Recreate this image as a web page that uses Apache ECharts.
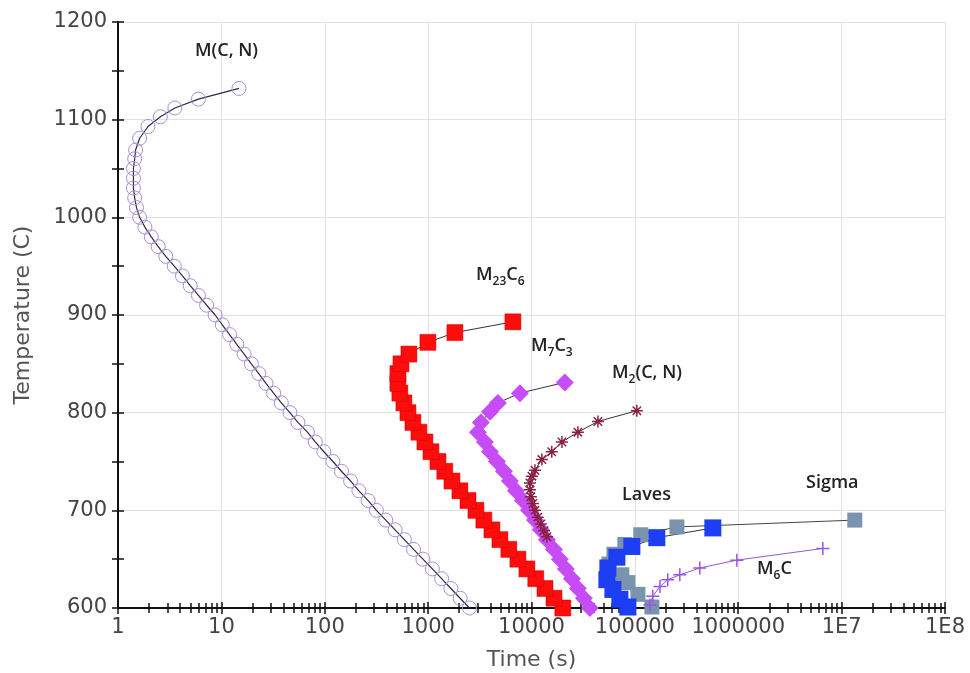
<!DOCTYPE html>
<html>
<head>
<meta charset="utf-8">
<style>
  html, body { margin: 0; padding: 0; background: #fff; }
  #chart { width: 970px; height: 673px; }
</style>
</head>
<body>
<div id="chart"></div>
<script src="https://cdn.jsdelivr.net/npm/echarts@6/dist/echarts.min.js"></script>
<script>
// temperature (C) and time (s)
var mcnTemp = [600, 610, 620, 630, 640, 650, 660, 670, 680, 690, 700, 710, 720, 730, 740, 750, 760, 770, 780, 790,
  800, 810, 820, 830, 840, 850, 860, 870, 880, 890, 900, 910, 920, 930, 940, 950, 960, 970, 980, 990,
  1000, 1010, 1020, 1030, 1040, 1050, 1060, 1069, 1081, 1093, 1103, 1112, 1121, 1132];
var mcnTime = [2510, 2040, 1660, 1350, 1100, 891, 724, 589, 479, 389, 316, 263, 214, 178, 145, 120, 98, 81, 68, 55,
  46, 38, 32, 27, 23, 19.5, 16.6, 14.1, 12.0, 10.2, 8.7, 7.2, 6.0, 5.0, 4.2, 3.5, 2.9, 2.45, 2.1, 1.82,
  1.62, 1.51, 1.45, 1.41, 1.41, 1.41, 1.45, 1.48, 1.62, 1.95, 2.57, 3.55, 6.0, 14.8];

var m23Temp = [600, 610, 620, 630, 640, 650, 660, 670, 680, 690, 700, 710, 720, 730, 740, 750, 760, 770, 780, 790,
  800, 810, 820, 830, 840, 850, 860, 872, 882, 893];
var m23Time = [20100, 16500, 13500, 11000, 9030, 7390, 6040, 4950, 4140, 3460, 2900, 2430, 2030, 1700, 1450, 1245,
  1065, 931, 815, 713, 638, 583, 533, 510, 510, 546, 652, 995, 1815, 6610];

var m7Temp = [600, 610, 620, 630, 640, 650, 660, 670, 680, 690, 700, 710, 720, 730, 740, 750, 760, 770, 780, 790,
  801, 810, 820, 831];
var m7Time = [36700, 32100, 28100, 24600, 21500, 18800, 16500, 14100, 12300, 10800, 9440, 8260, 7060, 6180, 5410,
  4630, 3960, 3540, 3030, 3240, 3960, 4730, 7730, 21000];

var m2Temp = [673, 679, 686, 693, 700, 707, 714, 721, 728, 735, 741, 752, 760, 770, 780, 791, 802];
var m2Time = [14100, 13200, 12300, 11500, 10800, 10300, 9870, 9660, 9660, 10100, 10800, 12600, 15700, 19700, 28100,
  43900, 104500];

var lavesTemp = [601, 609, 619, 629, 641, 652, 663, 672, 682];
var lavesTime = [85600, 71600, 61300, 53600, 54800, 67000, 93500, 163000, 568000];

var sigmaTemp = [601, 614, 626, 634, 645, 655, 665, 675, 683, 690];
var sigmaTime = [146000, 107000, 85600, 74800, 56100, 62700, 80000, 114000, 255000, 13400000];

var m6cTemp = [603, 612, 622, 629, 634, 641, 649, 661];
var m6cTime = [140000, 149000, 175000, 208000, 272000, 425000, 969000, 6580000];

var decades = [1, 10, 100, 1000, 10000, 100000, 1000000, 10000000, 100000000];

function pairs(times, temps) {
  var out = [];
  for (var i = 0; i < times.length; i++) out.push([times[i], temps[i]]);
  return out;
}

var minorTicks = [];
for (var d = 0; d < decades.length - 1; d++) {
  for (var k = 2; k <= 9; k++) minorTicks.push(decades[d] * k);
}

var asterisk = 'path://M5,0L5,10M0,5L10,5M1.5,1.5L8.5,8.5M8.5,1.5L1.5,8.5';
var plus = 'path://M5,0L5,10M0,5L10,5';

var chart = echarts.init(document.getElementById('chart'));

var labelFont = 'DejaVu Sans, Verdana, sans-serif';
var noteFont = 'Open Sans, Lato, sans-serif';

function note(x, y, text) {
  return {
    type: 'text', left: x, top: y, z: 100,
    style: {
      text: text,
      fill: '#222',
      rich: {
        m: { fontFamily: noteFont, fontWeight: 600, fontSize: 18, color: '#222', lineHeight: 22, verticalAlign: 'bottom' },
        s: { fontFamily: noteFont, fontWeight: 600, fontSize: 12, color: '#222', lineHeight: 22, verticalAlign: 'bottom', padding: [0, 0, -4, 0] }
      }
    }
  };
}

// extra bottom axes only carry the crossing tick marks
function tickAxis(values, inside, len) {
  return {
    type: 'log', logBase: 10, min: 1, max: 100000000, position: 'bottom',
    axisLine: { show: false },
    axisLabel: { show: false },
    splitLine: { show: false },
    axisTick: { show: true, customValues: values, inside: inside, length: len, lineStyle: { color: '#111', width: 1.5 } }
  };
}

var option = {
  animation: false,
  backgroundColor: '#fff',
  grid: { left: 118, right: 25, top: 22, bottom: 65, containLabel: false, outerBoundsMode: 'none' },
  xAxis: [
    {
      type: 'log', logBase: 10, min: 1, max: 100000000, position: 'bottom',
      name: 'Time (s)', nameLocation: 'middle', nameGap: 41,
      nameTextStyle: { fontFamily: labelFont, fontSize: 22, color: '#555' },
      axisLine: { lineStyle: { color: '#111', width: 2 } },
      axisTick: { show: true, customValues: decades, length: 6, lineStyle: { color: '#111', width: 1.5 } },
      axisLabel: {
        customValues: decades, margin: 9,
        fontFamily: labelFont, fontSize: 21, color: '#444',
        formatter: function (v) {
          if (v >= 10000000) return '1E' + Math.round(Math.log10(v));
          return String(Math.round(v));
        }
      },
      splitLine: { show: true, lineStyle: { color: '#e2e2e2', width: 1 } }
    },
    tickAxis(minorTicks, true, 5),
    tickAxis(minorTicks, false, 5),
    tickAxis(decades, true, 6)
  ],
  yAxis: [
    {
      type: 'value', min: 600, max: 1200, interval: 100,
      name: 'Temperature (C)', nameLocation: 'middle', nameGap: 84,
      nameTextStyle: { fontFamily: labelFont, fontSize: 22, color: '#555' },
      axisLine: { show: true, lineStyle: { color: '#111', width: 2 } },
      axisTick: { show: true, length: 6, lineStyle: { color: '#111', width: 1.5 } },
      minorTick: { show: true, splitNumber: 2, length: 6, lineStyle: { color: '#111', width: 1.5 } },
      axisLabel: {
        margin: 11, fontFamily: labelFont, fontSize: 21, color: '#444',
        formatter: function (v) { return String(v); }
      },
      splitLine: { show: true, lineStyle: { color: '#e2e2e2', width: 1 } }
    },
    {
      type: 'value', min: 600, max: 1200, interval: 100, position: 'left',
      axisLine: { show: false },
      axisTick: { show: true, inside: true, length: 6, lineStyle: { color: '#111', width: 1.5 } },
      minorTick: { show: true, splitNumber: 2, length: 6, lineStyle: { color: '#111', width: 1.5 } },
      axisLabel: { show: false },
      splitLine: { show: false }
    }
  ],
  series: [
    {
      name: 'M(C, N)', type: 'line', data: pairs(mcnTime, mcnTemp),
      symbol: 'circle', symbolSize: 14,
      itemStyle: { color: 'rgba(255,255,255,0)', borderColor: '#a98fd8', borderWidth: 1 },
      lineStyle: { color: '#2b2b45', width: 1.2 }
    },
    {
      name: 'M23C6', type: 'line', data: pairs(m23Time, m23Temp),
      symbol: 'rect', symbolSize: 16,
      itemStyle: { color: '#ff0d0d', borderColor: '#c80000', borderWidth: 0.5 },
      lineStyle: { color: '#333', width: 1 }
    },
    {
      name: 'M7C3', type: 'line', data: pairs(m7Time, m7Temp),
      symbol: 'diamond', symbolSize: 18,
      itemStyle: { color: '#c64cf7' },
      lineStyle: { color: '#333', width: 1 }
    },
    {
      name: 'M2(C, N)', type: 'line', data: pairs(m2Time, m2Temp),
      symbol: asterisk, symbolSize: 12,
      itemStyle: { color: 'rgba(0,0,0,0)', borderColor: '#8a2145', borderWidth: 1.5 },
      lineStyle: { color: '#333', width: 1 }
    },
    {
      name: 'Sigma', type: 'line', data: pairs(sigmaTime, sigmaTemp),
      symbol: 'rect', symbolSize: 15,
      itemStyle: { color: '#7b94ad' },
      lineStyle: { color: '#444', width: 1 }
    },
    {
      name: 'Laves', type: 'line', data: pairs(lavesTime, lavesTemp),
      symbol: 'rect', symbolSize: 17,
      itemStyle: { color: '#1d3ef2' },
      lineStyle: { color: '#333', width: 1 }
    },
    {
      name: 'M6C', type: 'line', data: pairs(m6cTime, m6cTemp),
      symbol: plus, symbolSize: 13,
      itemStyle: { color: 'rgba(0,0,0,0)', borderColor: '#9b52e6', borderWidth: 1.5 },
      lineStyle: { color: '#8d5ad6', width: 1 }
    }
  ],
  graphic: [
    note(195, 42, '{m|M(C, N)}'),
    note(476, 266, '{m|M}{s|23}{m|C}{s|6}'),
    note(531, 337, '{m|M}{s|7}{m|C}{s|3}'),
    note(612, 364, '{m|M}{s|2}{m|(C, N)}'),
    note(622, 486, '{m|Laves}'),
    note(806, 474, '{m|Sigma}'),
    note(757, 560, '{m|M}{s|6}{m|C}')
  ]
};

chart.setOption(option);
</script>
</body>
</html>
